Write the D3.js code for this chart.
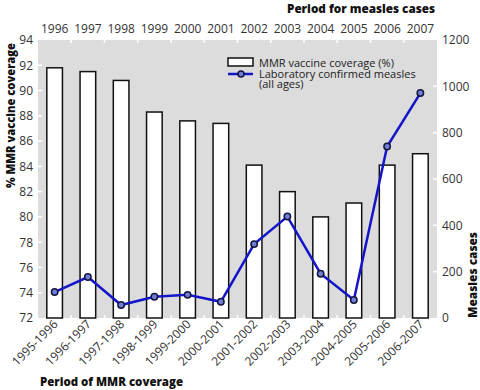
<!DOCTYPE html>
<html>
<head>
<meta charset="utf-8">
<script src="https://cdn.jsdelivr.net/npm/d3@7"></script>
<style>
  body { margin: 0; background: #fff; }
  svg { display: block; font-family: 'Open Sans', sans-serif; }
  .tick text { fill: #333; font-size: 12px; font-family: 'Open Sans', sans-serif; }
  .title { font-family: 'Open Sans', sans-serif; font-weight: 800; font-size: 13px; fill: #111; }
  .legend text { font-size: 11px; fill: #222; font-family: 'Open Sans', sans-serif; }
</style>
</head>
<body>
<div id="chart"></div>
<script>
const periods = ['1995-1996', '1996-1997', '1997-1998', '1998-1999', '1999-2000', '2000-2001',
  '2001-2002', '2002-2003', '2003-2004', '2004-2005', '2005-2006', '2006-2007'];
const years = ['1996', '1997', '1998', '1999', '2000', '2001', '2002', '2003', '2004', '2005', '2006', '2007'];
const coverage = [91.8, 91.5, 90.8, 88.3, 87.6, 87.4, 84.1, 82.0, 80.0, 81.1, 84.1, 85.0];
const measles = [112, 177, 56, 92, 100, 70, 319, 438, 191, 78, 740, 971];
const coverageTicks = [72, 74, 76, 78, 80, 82, 84, 86, 88, 90, 92, 94];
const casesTicks = [0, 200, 400, 600, 800, 1000, 1200];

const margin = { top: 40, right: 43, bottom: 72, left: 38 },
  width = 480 - margin.left - margin.right,
  height = 390 - margin.top - margin.bottom;

const svg = d3.select('#chart').append('svg')
  .attr('width', 480).attr('height', 390);
const g = svg.append('g').attr('transform', `translate(${margin.left},${margin.top})`);

const x = d3.scaleBand().domain(periods).range([0, width]).paddingInner(0.53).paddingOuter(0.265);
const xTop = d3.scaleBand().domain(years).range([0, width]);
const yL = d3.scaleLinear().domain([72, 94]).range([height, 0]);
const yR = d3.scaleLinear().domain([0, 1200]).range([height, 0]);

// grey plot area
g.append('rect').attr('width', width).attr('height', height).attr('fill', '#dcdcdc');

// white band boundary ticks on top and bottom
const bounds = d3.range(1, periods.length).map(i => i * width / periods.length);
g.selectAll('.btick').data(bounds).join('line')
  .attr('x1', d => d).attr('x2', d => d).attr('y1', 0).attr('y2', 3)
  .attr('stroke', '#fff').attr('stroke-width', 1.5);
g.selectAll('.bbtick').data(bounds).join('line')
  .attr('x1', d => d).attr('x2', d => d).attr('y1', height - 3).attr('y2', height)
  .attr('stroke', '#fff').attr('stroke-width', 1.5);

// bars
g.selectAll('.bar').data(coverage).join('rect')
  .attr('x', (d, i) => x(periods[i]))
  .attr('y', d => yL(d))
  .attr('width', x.bandwidth())
  .attr('height', d => height - yL(d))
  .attr('fill', '#fff').attr('stroke', '#111').attr('stroke-width', 1.5);

// left axis
const leftAxis = g.append('g').call(d3.axisLeft(yL).tickValues(coverageTicks).tickSize(0).tickPadding(5));
leftAxis.select('.domain').remove();
g.selectAll('.ltick').data(coverageTicks.slice(1, -1)).join('line')
  .attr('x1', 0).attr('x2', 4).attr('y1', d => yL(d)).attr('y2', d => yL(d))
  .attr('stroke', '#fff').attr('stroke-width', 1.5);

// right axis
const rightAxis = g.append('g').attr('transform', `translate(${width},0)`)
  .call(d3.axisRight(yR).tickValues(casesTicks).tickFormat(d3.format('d')).tickSize(0).tickPadding(5));
rightAxis.select('.domain').remove();
g.selectAll('.rtick').data(casesTicks.slice(1, -1)).join('line')
  .attr('x1', width - 4).attr('x2', width).attr('y1', d => yR(d)).attr('y2', d => yR(d))
  .attr('stroke', '#fff').attr('stroke-width', 1.5);

// top axis (years)
const topAxis = g.append('g').call(d3.axisTop(xTop).tickSize(0).tickPadding(7));
topAxis.select('.domain').remove();

// bottom axis (periods), rotated
const bottomAxis = g.append('g').attr('transform', `translate(0,${height})`)
  .call(d3.axisBottom(x).tickSize(0).tickPadding(0));
bottomAxis.select('.domain').remove();
bottomAxis.selectAll('.tick text')
  .attr('text-anchor', 'end')
  .attr('dy', 0)
  .attr('y', 0)
  .attr('transform', 'translate(4,7) rotate(-45)');

// measles line
const line = d3.line()
  .x((d, i) => x(periods[i]) + x.bandwidth() / 2)
  .y(d => yR(d));
g.append('path').datum(measles).attr('d', line)
  .attr('fill', 'none').attr('stroke', '#1414c8').attr('stroke-width', 2.5);
g.selectAll('.pt').data(measles).join('circle')
  .attr('cx', (d, i) => x(periods[i]) + x.bandwidth() / 2)
  .attr('cy', d => yR(d))
  .attr('r', 3.2)
  .attr('fill', '#6f7fd6').attr('stroke', '#15153f').attr('stroke-width', 1.5);

// legend
const lg = svg.append('g').attr('class', 'legend').attr('transform', 'translate(228,58)');
lg.append('rect').attr('width', 25).attr('height', 8)
  .attr('fill', '#fff').attr('stroke', '#111').attr('stroke-width', 1.5);
lg.append('text').attr('x', 31).attr('y', 8.5).text('MMR vaccine coverage (%)');
lg.append('line').attr('x1', 0).attr('x2', 25).attr('y1', 16).attr('y2', 16)
  .attr('stroke', '#1414c8').attr('stroke-width', 2.5);
lg.append('circle').attr('cx', 13).attr('cy', 16).attr('r', 3)
  .attr('fill', '#6f7fd6').attr('stroke', '#15153f').attr('stroke-width', 1.5);
lg.append('text').attr('x', 31).attr('y', 19.5).text('Laboratory confirmed measles');
lg.append('text').attr('x', 31).attr('y', 30).text('(all ages)');

// titles
svg.append('text').attr('class', 'title').attr('x', 435).attr('y', 13)
  .attr('text-anchor', 'end').attr('textLength', 148).attr('lengthAdjust', 'spacingAndGlyphs')
  .text('Period for measles cases');
svg.append('text').attr('class', 'title').attr('x', 40).attr('y', 386)
  .attr('textLength', 143).attr('lengthAdjust', 'spacingAndGlyphs')
  .text('Period of MMR coverage');
svg.append('text').attr('class', 'title')
  .attr('transform', 'translate(15,43) rotate(-90)')
  .attr('text-anchor', 'end').attr('textLength', 145).attr('lengthAdjust', 'spacingAndGlyphs')
  .text('% MMR vaccine coverage');
svg.append('text').attr('class', 'title')
  .attr('transform', 'translate(477,318) rotate(-90)')
  .attr('textLength', 86).attr('lengthAdjust', 'spacingAndGlyphs')
  .text('Measles cases');
</script>
</body>
</html>
